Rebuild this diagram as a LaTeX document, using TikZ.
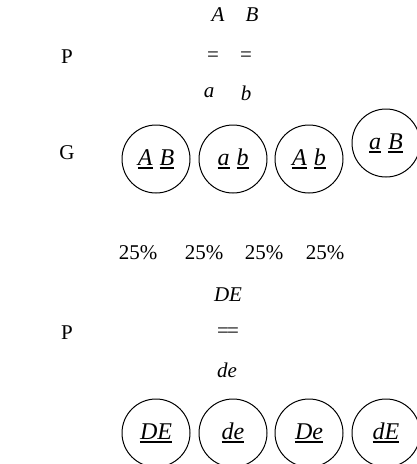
\documentclass[tikz,border=0pt]{standalone}
\usepackage{fontspec}
\setmainfont{Liberation Serif}
\newcommand\myul[1]{\setbox0\hbox{#1}\rlap{\rule[-3.5pt]{\wd0}{1.6pt}}\box0}
\tikzset{
  lbl/.style={font=\fontsize{21}{25}\selectfont, inner sep=0pt},
  gam/.style={circle, draw, line width=1pt, minimum size=68pt, inner sep=0pt, font=\fontsize{24}{28}\selectfont},
}
\begin{document}
\begin{tikzpicture}[x=1pt,y=-1pt]
\useasboundingbox (0,0) rectangle (416,464);
% first cross
\node[lbl] (tA) at (218,15) {\textit{A}};
\node[lbl] (tB) at (252,15) {\textit{B}};
\node[lbl] (P1) at (67,57) {P};
\node[lbl] (eq1) at (213,57) {=};
\node[lbl] (eq2) at (246,57) {=};
\node[lbl] (ta) at (209,93) {\textit{a}};
\node[lbl] (tb) at (246,93) {\textit{b}};
\node[lbl] (G) at (67,153) {G};
\node[gam] (g1) at (156,159) {\myul{\textit{A}}\kern7pt\myul{\textit{B}}};
\node[gam] (g2) at (233,159) {\myul{\textit{a}}\kern7pt\myul{\textit{b}}};
\node[gam] (g3) at (309,159) {\myul{\textit{A}}\kern7pt\myul{\textit{b}}};
\node[gam] (g4) at (386,143) {\myul{\textit{a}}\kern7pt\myul{\textit{B}}};
\node[lbl] (p1) at (138,253) {25\%};
\node[lbl] (p2) at (204,253) {25\%};
\node[lbl] (p3) at (264,253) {25\%};
\node[lbl] (p4) at (325,253) {25\%};
% second cross
\node[lbl] (tDE) at (228,295) {\textit{DE}};
\node[lbl] (P2) at (67,333) {P};
\node[lbl] (eq3) at (228,333) {=\kern-2pt=};
\node[lbl] (tde) at (227,370) {\textit{de}};
\node[gam] (h1) at (156,433) {\myul{\textit{DE}}};
\node[gam] (h2) at (233,433) {\myul{\textit{de}}};
\node[gam] (h3) at (309,433) {\myul{\textit{De}}};
\node[gam] (h4) at (386,433) {\myul{\textit{dE}}};
\end{tikzpicture}
\end{document}
